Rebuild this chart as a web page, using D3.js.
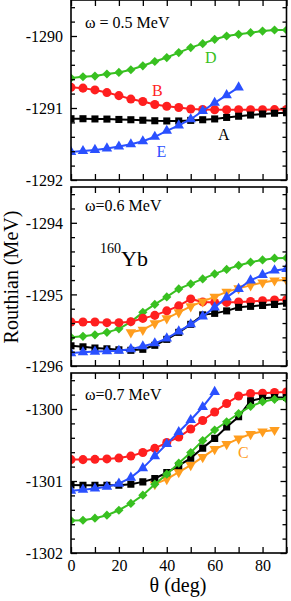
<!DOCTYPE html>
<html><head><meta charset="utf-8">
<script src="https://cdn.jsdelivr.net/npm/d3@7/dist/d3.min.js"></script>
<style>
html,body{margin:0;padding:0;background:#fff;}
svg{display:block;font-family:"Liberation Serif","Times New Roman",serif;}
</style></head>
<body><svg id="c" width="291" height="601"></svg>
<script>
// ---- data ----
const theta = [0,5,10,15,20,25,30,35,40,45,50,55,60,65,70,75,80,85,90];
const xTicks = [0,20,40,60,80];

// omega = 0.5 MeV
const w05_A = [-1291.149,-1291.149,-1291.152,-1291.154,-1291.159,-1291.163,-1291.170,-1291.177,-1291.180,-1291.180,-1291.172,-1291.163,-1291.152,-1291.131,-1291.114,-1291.098,-1291.083,-1291.073,-1291.066];
const w05_B = [-1290.713,-1290.724,-1290.749,-1290.786,-1290.828,-1290.876,-1290.910,-1290.952,-1290.975,-1290.993,-1291.014,-1291.020,-1291.025,-1291.025,-1291.025,-1291.025,-1291.025,-1291.022,-1291.020];
const w05_D = [-1290.583,-1290.566,-1290.556,-1290.528,-1290.506,-1290.469,-1290.414,-1290.354,-1290.299,-1290.230,-1290.161,-1290.106,-1290.046,-1290.000,-1289.977,-1289.954,-1289.931,-1289.917,-1289.917];
const w05_E = [-1291.610,-1291.597,-1291.582,-1291.561,-1291.535,-1291.503,-1291.462,-1291.400,-1291.317,-1291.241,-1291.156,-1291.041,-1290.928,-1290.821,-1290.713,null,null,null,null];

// omega = 0.6 MeV
const w06_A = [-1295.718,-1295.732,-1295.749,-1295.760,-1295.774,-1295.781,-1295.767,-1295.711,-1295.628,-1295.530,-1295.418,-1295.286,-1295.265,-1295.230,-1295.181,-1295.167,-1295.153,-1295.139,-1295.123];
const w06_B = [-1295.386,-1295.386,-1295.386,-1295.395,-1295.395,-1295.381,-1295.335,-1295.293,-1295.230,-1295.160,-1295.063,-1295.105,-1295.112,-1295.112,-1295.107,-1295.098,-1295.088,-1295.079,-1295.074];
const w06_C = [null,null,null,null,null,-1295.530,-1295.495,-1295.404,-1295.335,-1295.251,-1295.167,-1295.098,-1295.035,-1294.965,-1294.916,-1294.874,-1294.833,-1294.805,-1294.798];
const w06_D = [-1295.600,-1295.586,-1295.565,-1295.530,-1295.481,-1295.384,-1295.251,-1295.140,-1295.035,-1294.923,-1294.854,-1294.784,-1294.714,-1294.651,-1294.596,-1294.550,-1294.519,-1294.494,-1294.491];
const w06_E = [-1295.820,-1295.809,-1295.799,-1295.795,-1295.788,-1295.764,-1295.725,-1295.683,-1295.614,-1295.516,-1295.418,-1295.307,-1295.181,-1295.042,-1294.923,-1294.805,-1294.728,-1294.665,-1294.644];

// omega = 0.7 MeV
const w07_A = [-1301.054,-1301.058,-1301.058,-1301.058,-1301.058,-1301.044,-1301.012,-1300.965,-1300.884,-1300.786,-1300.682,-1300.543,-1300.408,-1300.251,-1300.107,-1299.886,-1299.851,-1299.840,-1299.840];
const w07_B = [-1300.703,-1300.703,-1300.699,-1300.693,-1300.682,-1300.654,-1300.605,-1300.547,-1300.466,-1300.390,-1300.278,-1300.160,-1300.042,-1299.923,-1299.819,-1299.784,-1299.780,-1299.770,-1299.763];
const w07_C = [null,null,null,null,null,null,null,-1301.044,-1300.974,-1300.877,-1300.779,-1300.668,-1300.557,-1300.487,-1300.411,-1300.348,-1300.313,-1300.292,null];
const w07_D = [-1301.549,-1301.545,-1301.517,-1301.475,-1301.406,-1301.312,-1301.197,-1301.044,-1300.905,-1300.752,-1300.605,-1300.438,-1300.292,-1300.177,-1300.063,-1299.965,-1299.898,-1299.865,-1299.861];
const w07_E = [-1301.134,-1301.120,-1301.104,-1301.081,-1301.037,-1300.953,-1300.821,-1300.654,-1300.487,-1300.320,-1300.153,-1299.972,-1299.763,null,null,null,null,null,null];

const yDomains = [[-1292,-1289.5],[-1296,-1293.5],[-1302,-1299.5]];
const yMajor = [[-1292,-1291,-1290],[-1296,-1295,-1294],[-1302,-1301,-1300]];
const omegaLabels = ["\u03c9 = 0.5 MeV","\u03c9=0.6 MeV","\u03c9=0.7 MeV"];

// ---- style ----
const col = {A:"#000000", B:"#ff1f1f", C:"#ff9d1e", D:"#38c020", E:"#2a50ff"};
const sym = {A:"square", B:"circle", C:"down", D:"diamond", E:"up"};

const panels = [
  {top:0, bottom:180, series:[["D",w05_D],["B",w05_B],["A",w05_A],["E",w05_E]]},
  {top:187, bottom:366, series:[["D",w06_D],["B",w06_B],["C",w06_C],["A",w06_A],["E",w06_E]]},
  {top:373, bottom:553, series:[["B",w07_B],["C",w07_C],["A",w07_A],["D",w07_D],["E",w07_E]]}
];

const svg = d3.select("#c");
const L = 71, R = 286.5;
const x = d3.scaleLinear().domain([0,90]).range([L,R]);

function markerPath(t){
  if(t==="square") return d3.symbol(d3.symbolSquare, 50)();
  if(t==="circle") return d3.symbol(d3.symbolCircle, 64)();
  if(t==="up") return d3.symbol(d3.symbolTriangle, 48)();
  if(t==="down") return d3.symbol(d3.symbolTriangle, 48)();
  if(t==="diamond") { const h=4.6; return `M0,${-h}L${h},0L0,${h}L${-h},0Z`; }
}

panels.forEach((p,i)=>{
  const y = d3.scaleLinear().domain(yDomains[i]).range([p.bottom,p.top]);
  const g = svg.append("g");
  const clipId = "clip"+i;
  svg.append("clipPath").attr("id",clipId).append("rect")
    .attr("x",L).attr("y",p.top).attr("width",R-L).attr("height",p.bottom-p.top);
  const plot = g.append("g").attr("clip-path",`url(#${clipId})`);

  p.series.forEach(([k,vals])=>{
    const pts = theta.map((t,j)=>({t, v:vals[j]})).filter(d=>d.v!==null);
    plot.append("path").datum(pts)
      .attr("fill","none").attr("stroke",col[k]).attr("stroke-width",2)
      .attr("d", d3.line().x(d=>x(d.t)).y(d=>y(d.v)));
    plot.selectAll(null).data(pts).enter().append("path")
      .attr("d", markerPath(sym[k]))
      .attr("fill",col[k])
      .attr("transform", d=>`translate(${x(d.t)},${y(d.v)})${sym[k]==="down"?" rotate(180)":""}`);
  });

  // axes (ticks inward)
  const xb = d3.axisBottom(x).tickValues(d3.range(0,91,10)).tickSize(-6).tickFormat(d=> (i===2 && xTicks.includes(d)) ? d : "");
  const xt = d3.axisTop(x).tickValues(d3.range(0,91,10)).tickSize(-6).tickFormat("");
  const minor = d3.range(yDomains[i][0], yDomains[i][1]+0.001, 0.2).map(v=>+v.toFixed(1)).filter(v=>!yMajor[i].includes(v));
  const yl = d3.axisLeft(y).tickValues(yMajor[i]).tickSize(-6).tickFormat(d=>d);
  const ylm = d3.axisLeft(y).tickValues(minor).tickSize(-4).tickFormat("");
  const yr = d3.axisRight(y).tickValues(yMajor[i]).tickSize(-6).tickFormat("");
  const yrm = d3.axisRight(y).tickValues(minor).tickSize(-4).tickFormat("");

  const axes = [
    g.append("g").attr("transform",`translate(0,${p.bottom})`).call(xb),
    g.append("g").attr("transform",`translate(0,${p.top})`).call(xt),
    g.append("g").attr("transform",`translate(${L},0)`).call(yl),
    g.append("g").attr("transform",`translate(${L},0)`).call(ylm),
    g.append("g").attr("transform",`translate(${R},0)`).call(yr),
    g.append("g").attr("transform",`translate(${R},0)`).call(yrm)
  ];
  axes.forEach(a=>{
    a.select(".domain").remove();
    a.selectAll("line").attr("stroke","#000").attr("stroke-width",1.3);
    a.selectAll("text").attr("font-family","Liberation Serif, serif").attr("font-size",16).attr("fill","#000");
  });
  axes[0].selectAll("text").attr("y",7).attr("dy","0.71em");
  axes[2].selectAll("text").attr("x",-8).attr("dy","0.35em");

  g.append("rect").attr("x",L).attr("y",p.top).attr("width",R-L).attr("height",p.bottom-p.top)
    .attr("fill","none").attr("stroke","#000").attr("stroke-width",1.6);

  g.append("text").attr("x",85).attr("y",[28,211,400][i]).attr("font-size",16).text(omegaLabels[i]);
});

// series labels
const lab = [["D",205,63],["B",152,96],["A",218,140],["E",156.5,157],["C",238,458]];
lab.forEach(([k,lx,ly])=>svg.append("text").attr("x",lx).attr("y",ly).attr("font-size",16).attr("fill",col[k]).text(k));

// nucleus label
const nt = svg.append("text").attr("x",100).attr("y",266).attr("font-size",22);
nt.append("tspan").attr("font-size",14).attr("dy",-13).text("160");
nt.append("tspan").attr("dy",13).text("Yb");

// axis titles
svg.append("text").attr("transform","translate(18,277) rotate(-90)").attr("text-anchor","middle").attr("font-size",20).text("Routhian (MeV)");
svg.append("text").attr("x",178).attr("y",592).attr("text-anchor","middle").attr("font-size",20).text("\u03b8 (deg)");
</script></body></html>
